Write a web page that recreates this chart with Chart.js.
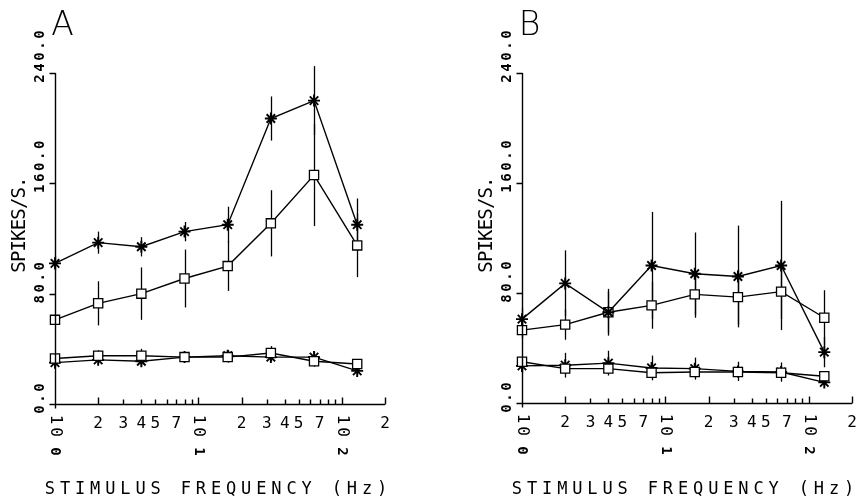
<!DOCTYPE html>
<html>
<head>
<meta charset="utf-8">
<script src="https://cdn.jsdelivr.net/npm/chart.js@4.4.0/dist/chart.umd.min.js"></script>
<style>
  body { margin: 0; background: #fff; }
  #wrap { position: relative; width: 860px; height: 502px; }
  canvas { position: absolute; top: 0; }
</style>
</head>
<body>
<div id="wrap">
  <canvas id="panelA" width="430" height="502" style="left:0"></canvas>
  <canvas id="panelB" width="430" height="502" style="left:430px"></canvas>
</div>
<script>
'use strict';

// stimulus frequencies (Hz)
var freqs = [1, 2, 4, 8, 16, 32, 64, 128];

var yTicks = [0, 80, 160, 240];
var yTickLabels = ['0.0', '80.0', '160.0', '240.0'];
var xDecades = [1, 10, 100];
var xDecadeExp = ['0', '1', '2'];
var xMinorSteps = [2, 3, 4, 5, 7];

// panel A
var aStarHigh = [102, 117, 114, 125, 130, 207, 220, 130];
var aStarHighErr = [5, 8, 7, 7, 13, 16, 25, 19];
var aSquareHigh = [61, 73, 80, 91, 100, 131, 166, 115];
var aSquareHighErr = [3, 16, 19, 21, 18, 24, 37, 23];
var aSquareLow = [33, 35, 35, 34, 34, 37, 31, 29];
var aSquareLowErr = [3, 4, 5, 3, 4, 5, 4, 3];
var aStarLow = [30, 32, 31, 34, 35, 34, 34, 24];
var aStarLowErr = [3, 3, 4, 3, 4, 3, 4, 3];

// panel B
var bStarHigh = [61, 87, 66, 100, 94, 92, 100, 37];
var bStarHighErr = [8, 24, 17, 39, 30, 37, 47, 11];
var bSquareHigh = [53, 57, 66, 71, 79, 77, 81, 62];
var bSquareHighErr = [6, 11, 15, 17, 17, 20, 20, 20];
var bSquareLow = [30, 25, 25, 22, 22.5, 22.5, 22, 19.5];
var bSquareLowErr = [3, 4, 4, 4, 4, 4, 4, 3];
var bStarLow = [27, 27.5, 29, 25.5, 25, 23, 22.5, 15];
var bStarLowErr = [5, 9, 9, 9, 8, 7, 7, 3];

function toPoints(values) {
    return freqs.map(function (f, i) {
        return { x: f, y: values[i] };
    });
}

function series(values, errors, marker) {
    var star = marker === 'star';
    return {
        data: toPoints(values),
        errors: errors,
        borderColor: '#000',
        borderWidth: 1.4,
        pointStyle: marker,
        pointRadius: star ? 6 : 6.5,
        pointHoverRadius: star ? 6 : 6.5,
        pointBorderColor: '#000',
        pointBackgroundColor: star ? '#000' : '#fff',
        pointBorderWidth: star ? 1.9 : 1.3,
        clip: false
    };
}

function drawChars(ctx, text, x, y, pitch) {
    for (var i = 0; i < text.length; i++) {
        ctx.fillText(text[i], x + i * pitch, y);
    }
}

function plotterPlugin(letter) {
    return {
        id: 'plotter',
        beforeDatasetsDraw: function (chart) {
            var ctx = chart.ctx, xs = chart.scales.x, ys = chart.scales.y;
            ctx.save();
            ctx.strokeStyle = '#000';
            ctx.lineWidth = 1.3;
            chart.data.datasets.forEach(function (ds) {
                ds.data.forEach(function (p, i) {
                    var e = ds.errors[i];
                    var px = Math.round(xs.getPixelForValue(p.x)) + 0.5;
                    ctx.beginPath();
                    ctx.moveTo(px, ys.getPixelForValue(p.y - e));
                    ctx.lineTo(px, ys.getPixelForValue(p.y + e));
                    ctx.stroke();
                });
            });
            ctx.restore();
        },
        afterDraw: function (chart) {
            var ctx = chart.ctx, xs = chart.scales.x, ys = chart.scales.y;
            var area = chart.chartArea;
            var left = Math.round(area.left) + 0.5;
            var bottom = Math.round(area.bottom) + 0.5;
            ctx.save();
            ctx.strokeStyle = '#000';
            ctx.fillStyle = '#000';
            ctx.lineWidth = 1.4;

            // axis lines and ticks
            ctx.beginPath();
            ctx.moveTo(left, bottom + 4);
            ctx.lineTo(left, area.top);
            ctx.moveTo(left - 6, bottom);
            ctx.lineTo(xs.getPixelForValue(xs.max), bottom);
            yTicks.forEach(function (v) {
                var py = Math.round(ys.getPixelForValue(v)) + 0.5;
                ctx.moveTo(left - 6, py);
                ctx.lineTo(left, py);
            });
            xDecades.forEach(function (d) {
                for (var k = 1; k <= 9; k++) {
                    if (k * d > xs.max) break;
                    var px = Math.round(xs.getPixelForValue(k * d)) + 0.5;
                    ctx.moveTo(px, bottom);
                    ctx.lineTo(px, bottom - (k <= 2 ? 7 : 5));
                }
            });
            ctx.stroke();

            ctx.textAlign = 'center';
            ctx.textBaseline = 'middle';

            // y tick labels, rotated
            ctx.font = 'bold 14px "DejaVu Sans Mono"';
            yTicks.forEach(function (v, i) {
                var py = ys.getPixelForValue(v);
                ctx.save();
                ctx.translate(left - 15, py + 11);
                ctx.rotate(-Math.PI / 2);
                drawChars(ctx, yTickLabels[i], 5.5, 0, 11);
                ctx.restore();
            });

            // x minor labels
            ctx.font = '16px "DejaVu Sans Mono"';
            xDecades.forEach(function (d) {
                xMinorSteps.forEach(function (k) {
                    if (k * d > xs.max) return;
                    ctx.fillText(String(k), xs.getPixelForValue(k * d), bottom + 19);
                });
            });

            // decade labels 10^n, rotated
            xDecades.forEach(function (d, i) {
                var px = xs.getPixelForValue(d);
                ctx.save();
                ctx.translate(px, bottom + 11);
                ctx.rotate(Math.PI / 2);
                ctx.font = '16px "DejaVu Sans Mono"';
                drawChars(ctx, '10', 4, 0, 12.5);
                ctx.font = 'bold 14px "DejaVu Sans Mono"';
                ctx.fillText(xDecadeExp[i], 36, 0);
                ctx.restore();
            });

            // axis titles
            ctx.font = '19px "DejaVu Sans Mono"';
            ctx.save();
            ctx.translate(left - 35, 272);
            ctx.rotate(-Math.PI / 2);
            drawChars(ctx, 'SPIKES/S.', 5, 0, 10.6);
            ctx.restore();

            ctx.font = '17px "DejaVu Sans Mono"';
            var title = 'STIMULUS FREQUENCY (Hz)';
            var pitch = 15.1;
            var cx = (area.left + area.right) / 2 - 4;
            drawChars(ctx, title, cx - (title.length - 1) * pitch / 2, 490, pitch);

            // panel letter
            ctx.font = '200 33px "DejaVu Sans"';
            ctx.fillText(letter, left + 7, 26);

            ctx.restore();
        }
    };
}

function makePanel(id, letter, datasets, padding) {
    return new Chart(document.getElementById(id), {
        type: 'line',
        data: { datasets: datasets },
        options: {
            responsive: false,
            animation: false,
            devicePixelRatio: 1,
            layout: { padding: padding },
            plugins: { legend: { display: false }, tooltip: { enabled: false } },
            scales: {
                x: { type: 'logarithmic', min: 1, max: 200, display: false },
                y: { type: 'linear', min: 0, max: 240, display: false }
            }
        },
        plugins: [plotterPlugin(letter)]
    });
}

makePanel('panelA', 'A', [
    series(aStarHigh, aStarHighErr, 'star'),
    series(aSquareHigh, aSquareHighErr, 'rect'),
    series(aSquareLow, aSquareLowErr, 'rect'),
    series(aStarLow, aStarLowErr, 'star')
], { left: 55, right: 45, top: 73, bottom: 98 });

makePanel('panelB', 'B', [
    series(bStarHigh, bStarHighErr, 'star'),
    series(bSquareHigh, bSquareHighErr, 'rect'),
    series(bSquareLow, bSquareLowErr, 'rect'),
    series(bStarLow, bStarLowErr, 'star')
], { left: 92, right: 6, top: 73, bottom: 99 });
</script>
</body>
</html>
